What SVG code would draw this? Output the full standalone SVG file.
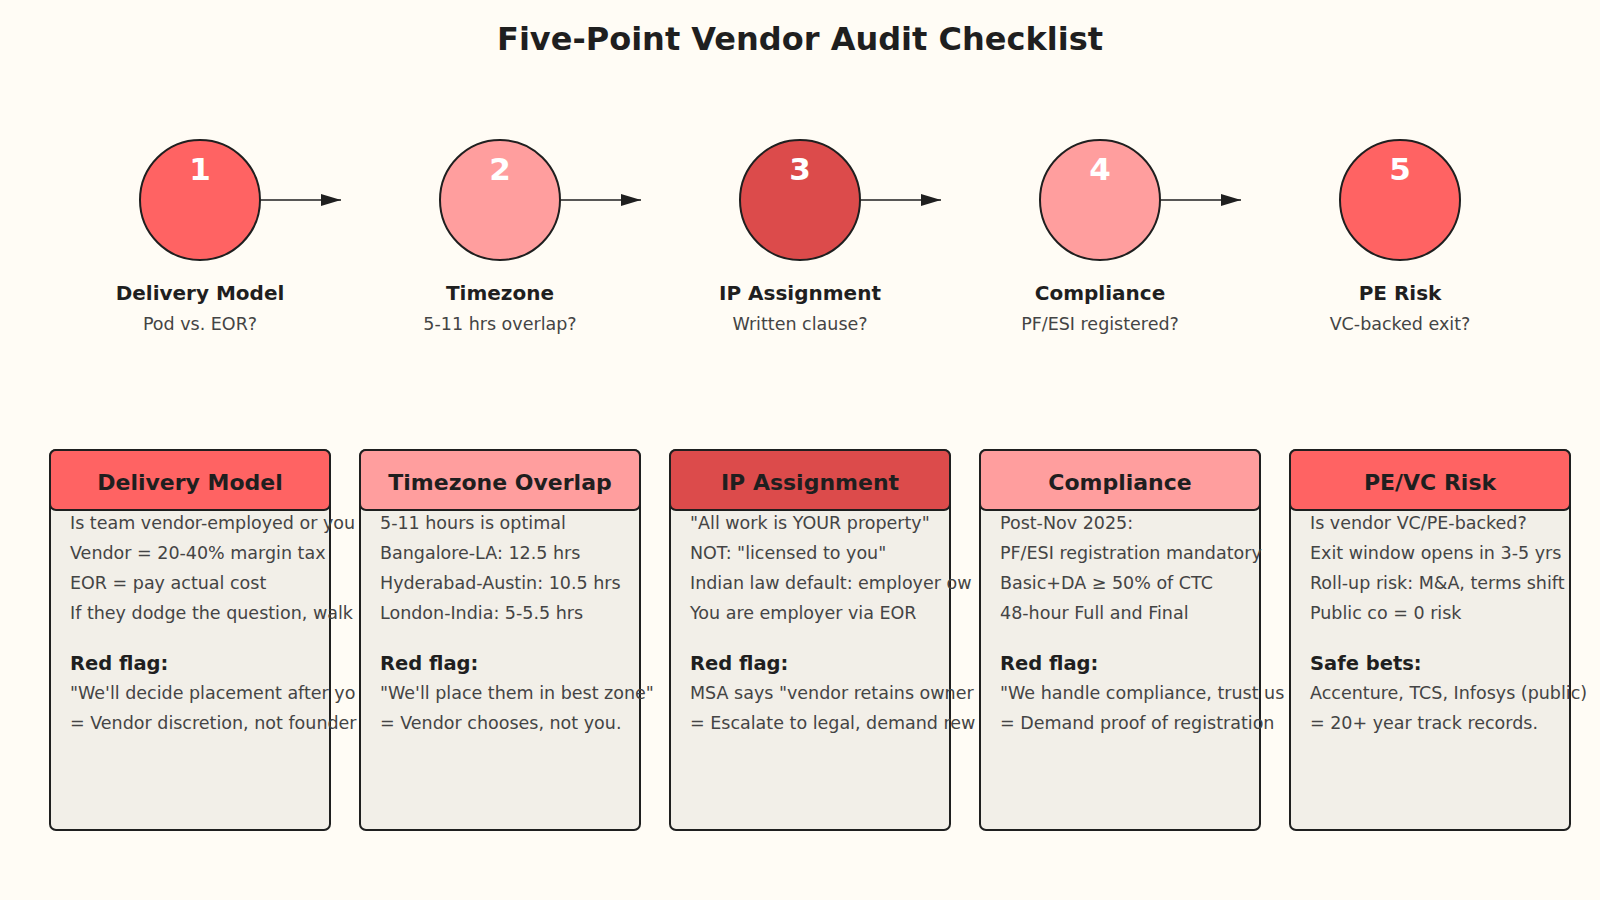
<svg xmlns="http://www.w3.org/2000/svg" width="1600" height="900" viewBox="0 0 1600 900">
<style>
text{font-family:"DejaVu Sans","Noto Sans",sans-serif}
.t{font-size:32px;font-weight:bold;fill:#1f1f1f;text-anchor:middle}
.c{stroke:#1f1f1f;stroke-width:2}
.n{font-size:31px;font-weight:bold;fill:#fff;text-anchor:middle}
.l{font-size:20px;font-weight:bold;fill:#1f1f1f;text-anchor:middle}
.s{font-size:17.5px;fill:#444;text-anchor:middle}
.card{fill:#f2efe8;stroke:#1f1f1f;stroke-width:2}
.h{font-size:22px;font-weight:bold;fill:#1f1f1f;text-anchor:middle}
.b{font-size:17.5px;fill:#444}
.bb{font-size:19.5px;font-weight:bold;fill:#1f1f1f}
.a{stroke:#1f1f1f;stroke-width:1.5;fill:none;marker-end:url(#ar)}
.r1{fill:#ff6363}.r2{fill:#ff9e9e}.r3{fill:#dc4b4b}
</style>
<defs>
<marker id="ar" markerWidth="20" markerHeight="12" refX="20" refY="6" orient="auto" markerUnits="userSpaceOnUse"><path d="M0,0 L20,6 L0,12 Z" fill="#1f1f1f"/></marker>
<clipPath id="k1"><rect x="0" y="0" width="360" height="900"/></clipPath>
<clipPath id="k2"><rect x="0" y="0" width="670" height="900"/></clipPath>
<clipPath id="k3"><rect x="0" y="0" width="980" height="900"/></clipPath>
<clipPath id="k4"><rect x="0" y="0" width="1290" height="900"/></clipPath>
</defs>
<rect width="1600" height="900" fill="#fffcf5"/>
<text class="t" x="800" y="50">Five-Point Vendor Audit Checklist</text>
<g id="connectors">
<line class="a" x1="260" y1="200" x2="341" y2="200"/>
<line class="a" x1="560" y1="200" x2="641" y2="200"/>
<line class="a" x1="860" y1="200" x2="941" y2="200"/>
<line class="a" x1="1160" y1="200" x2="1241" y2="200"/>
</g>
<g id="step1"><circle class="c r1" cx="200" cy="200" r="60"/><text class="n" x="200" y="180">1</text><text class="l" x="200" y="300">Delivery Model</text><text class="s" x="200" y="330">Pod vs. EOR?</text></g>
<g id="step2"><circle class="c r2" cx="500" cy="200" r="60"/><text class="n" x="500" y="180">2</text><text class="l" x="500" y="300">Timezone</text><text class="s" x="500" y="330">5-11 hrs overlap?</text></g>
<g id="step3"><circle class="c r3" cx="800" cy="200" r="60"/><text class="n" x="800" y="180">3</text><text class="l" x="800" y="300">IP Assignment</text><text class="s" x="800" y="330">Written clause?</text></g>
<g id="step4"><circle class="c r2" cx="1100" cy="200" r="60"/><text class="n" x="1100" y="180">4</text><text class="l" x="1100" y="300">Compliance</text><text class="s" x="1100" y="330">PF/ESI registered?</text></g>
<g id="step5"><circle class="c r1" cx="1400" cy="200" r="60"/><text class="n" x="1400" y="180">5</text><text class="l" x="1400" y="300">PE Risk</text><text class="s" x="1400" y="330">VC-backed exit?</text></g>

<g id="card1">
<rect class="card" x="50" y="450" width="280" height="380" rx="6"/>
<rect class="c r1" x="50" y="450" width="280" height="60" rx="6"/>
<text class="h" x="190" y="490">Delivery Model</text>
<g clip-path="url(#k1)">
<text class="b" x="70" y="529">Is team vendor-employed or you</text>
<text class="b" x="70" y="559">Vendor = 20-40% margin tax</text>
<text class="b" x="70" y="589">EOR = pay actual cost</text>
<text class="b" x="70" y="619">If they dodge the question, walk</text>
<text class="bb" x="70" y="670">Red flag:</text>
<text class="b" x="70" y="699">"We'll decide placement after yo</text>
<text class="b" x="70" y="729">= Vendor discretion, not founder</text>
</g></g>
<g id="card2">
<rect class="card" x="360" y="450" width="280" height="380" rx="6"/>
<rect class="c r2" x="360" y="450" width="280" height="60" rx="6"/>
<text class="h" x="500" y="490">Timezone Overlap</text>
<g clip-path="url(#k2)">
<text class="b" x="380" y="529">5-11 hours is optimal</text>
<text class="b" x="380" y="559">Bangalore-LA: 12.5 hrs</text>
<text class="b" x="380" y="589">Hyderabad-Austin: 10.5 hrs</text>
<text class="b" x="380" y="619">London-India: 5-5.5 hrs</text>
<text class="bb" x="380" y="670">Red flag:</text>
<text class="b" x="380" y="699">"We'll place them in best zone"</text>
<text class="b" x="380" y="729">= Vendor chooses, not you.</text>
</g></g>
<g id="card3">
<rect class="card" x="670" y="450" width="280" height="380" rx="6"/>
<rect class="c r3" x="670" y="450" width="280" height="60" rx="6"/>
<text class="h" x="810" y="490">IP Assignment</text>
<g clip-path="url(#k3)">
<text class="b" x="690" y="529">"All work is YOUR property"</text>
<text class="b" x="690" y="559">NOT: "licensed to you"</text>
<text class="b" x="690" y="589">Indian law default: employer ow</text>
<text class="b" x="690" y="619">You are employer via EOR</text>
<text class="bb" x="690" y="670">Red flag:</text>
<text class="b" x="690" y="699">MSA says "vendor retains owner</text>
<text class="b" x="690" y="729">= Escalate to legal, demand rew</text>
</g></g>
<g id="card4">
<rect class="card" x="980" y="450" width="280" height="380" rx="6"/>
<rect class="c r2" x="980" y="450" width="280" height="60" rx="6"/>
<text class="h" x="1120" y="490">Compliance</text>
<g clip-path="url(#k4)">
<text class="b" x="1000" y="529">Post-Nov 2025:</text>
<text class="b" x="1000" y="559">PF/ESI registration mandatory</text>
<text class="b" x="1000" y="589">Basic+DA ≥ 50% of CTC</text>
<text class="b" x="1000" y="619">48-hour Full and Final</text>
<text class="bb" x="1000" y="670">Red flag:</text>
<text class="b" x="1000" y="699">"We handle compliance, trust us</text>
<text class="b" x="1000" y="729">= Demand proof of registration</text>
</g></g>
<g id="card5">
<rect class="card" x="1290" y="450" width="280" height="380" rx="6"/>
<rect class="c r1" x="1290" y="450" width="280" height="60" rx="6"/>
<text class="h" x="1430" y="490">PE/VC Risk</text>
<text class="b" x="1310" y="529">Is vendor VC/PE-backed?</text>
<text class="b" x="1310" y="559">Exit window opens in 3-5 yrs</text>
<text class="b" x="1310" y="589">Roll-up risk: M&amp;A, terms shift</text>
<text class="b" x="1310" y="619">Public co = 0 risk</text>
<text class="bb" x="1310" y="670">Safe bets:</text>
<text class="b" x="1310" y="699">Accenture, TCS, Infosys (public)</text>
<text class="b" x="1310" y="729">= 20+ year track records.</text>
</g>
</svg>
